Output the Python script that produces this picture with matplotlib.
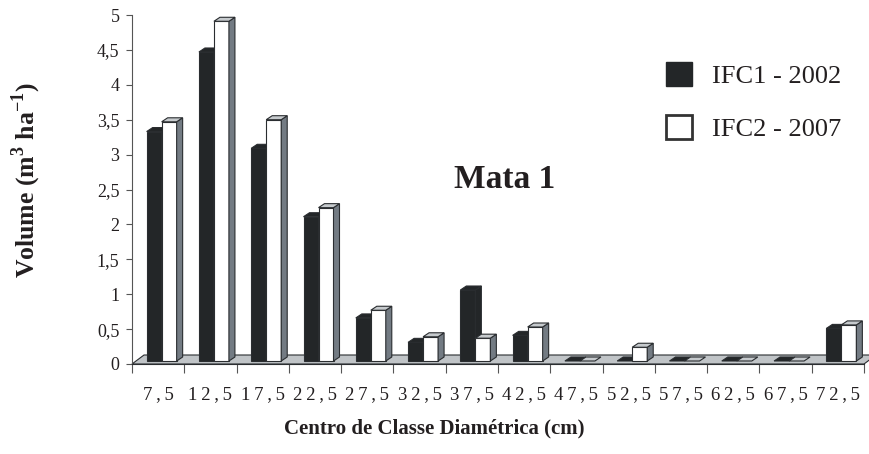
import numpy as np
import matplotlib
matplotlib.use("Agg")
import matplotlib.pyplot as plt
from matplotlib.patches import Polygon, Rectangle, Patch

# ---------------- data ----------------
classes = ["7,5", "12,5", "17,5", "22,5", "27,5", "32,5", "37,5",
           "42,5", "47,5", "52,5", "57,5", "62,5", "67,5", "72,5"]
ifc1_2002 = [3.33, 4.47, 3.09, 2.11, 0.66, 0.31, 1.06, 0.41, 0.0, 0.0, 0.0, 0.0, 0.0, 0.51]
ifc2_2007 = [3.47, 4.91, 3.50, 2.24, 0.77, 0.39, 0.37, 0.53, 0.0, 0.24, 0.0, 0.0, 0.0, 0.56]
series_labels = ["IFC1 - 2002", "IFC2 - 2007"]

# ---------------- style ----------------
plt.rcParams["font.family"] = ["Liberation Serif", "DejaVu Serif"]
plt.rcParams["mathtext.fontset"] = "custom"
plt.rcParams["mathtext.rm"] = "Liberation Serif"
plt.rcParams["mathtext.bf"] = "Liberation Serif:bold"

TXT = "#231f20"
DARK = "#232628"
SIDE = "#737b83"
TOP = "#c6cacd"
FLOOR = "#c0c4c7"
EDGE = "#2a2d30"

W, H = 869, 454
fig = plt.figure(figsize=(W / 100, H / 100), dpi=100)
ax = fig.add_axes([132 / W, 90 / H, 732 / W, 349 / H])
n = len(classes)
ax.set_xlim(-0.5, n - 0.5)
ax.set_ylim(0, 5)

# pixel -> data helpers for the fake 3D depth
px_x = 732 / n
px_y = 349 / 5
ddx, ddy = 6 / px_x, 4 / px_y          # bar depth
fdx, fdy = 12 / px_x, 9 / px_y         # floor depth
base = 3 / px_y
bw = 15 / px_x
off_black = -11.5 / px_x
off_white = off_black + bw

# floor
ax.add_patch(Polygon([(-0.5, 0), (n - 0.5, 0), (n - 0.5 + fdx, fdy), (-0.5 + fdx, fdy)],
                     closed=True, fc=FLOOR, ec=EDGE, lw=0.8, clip_on=False, zorder=1))


def bar3d(x0, v, face, top, side):
    h = max(v, base)
    if v > base:
        ax.add_patch(Rectangle((x0, base), bw, v - base, fc=face, ec=EDGE, lw=0.8,
                               clip_on=False, zorder=3))
        ax.add_patch(Polygon([(x0 + bw, base), (x0 + bw + ddx, base + ddy),
                              (x0 + bw + ddx, v + ddy), (x0 + bw, v)],
                             closed=True, fc=side, ec=EDGE, lw=0.8, clip_on=False, zorder=3))
    ax.add_patch(Polygon([(x0, h), (x0 + bw, h), (x0 + bw + ddx, h + ddy), (x0 + ddx, h + ddy)],
                         closed=True, fc=top, ec=EDGE, lw=0.8, clip_on=False, zorder=3))


for i in range(n):
    bar3d(i + off_black, ifc1_2002[i], DARK, DARK, DARK)
    bar3d(i + off_white, ifc2_2007[i], "white", TOP, SIDE)

# axes styling
for s in ["top", "right"]:
    ax.spines[s].set_visible(False)
ax.spines["left"].set_color("#555555")
ax.spines["bottom"].set_color(EDGE)
ax.spines["bottom"].set_linewidth(0.8)

yt = np.arange(0, 5.01, 0.5)
ax.set_yticks(yt)
ax.set_yticklabels([f"{v:g}".replace(".", ",") for v in yt])
ax.tick_params(axis="y", direction="out", length=4, width=0.8, color="#555555",
               labelsize=13, labelcolor=TXT, pad=5)

ax.set_xticks(range(n))
ax.set_xticklabels(["\u2009".join(c) for c in classes])
ax.tick_params(axis="x", which="major", length=0, labelsize=13.5, labelcolor=TXT, pad=16)
ax.set_xticks(np.arange(-0.5, n, 1.0), minor=True)
ax.tick_params(axis="x", which="minor", direction="out", length=6.5, width=0.8, color="#555555")

# texts
fig.text(505 / W, 1 - 180 / H, "Mata 1", ha="center", va="center",
         fontsize=24, fontweight="bold", color=TXT)
fig.text(434 / W, 1 - 428 / H, "Centro de Classe Diamétrica (cm)", ha="center", va="center",
         fontsize=15, fontweight="bold", color=TXT)
fig.text(26 / W, 1 - 180 / H, r"Volume (m$^{\mathbf{3}}$ ha$^{\mathbf{-1}}$)", ha="center",
         va="center", rotation=90, fontsize=18.5, fontweight="bold", color=TXT)

handles = [Patch(fc=DARK, ec=DARK, lw=1), Patch(fc="white", ec="#333333", lw=2)]
fig.legend(handles, series_labels, loc="upper left", bbox_to_anchor=(666 / W, 1 - 62 / H),
           bbox_transform=fig.transFigure, frameon=False, fontsize=19,
           handlelength=1.0, handleheight=1.03, handletextpad=0.76, labelspacing=1.02,
           borderpad=0, borderaxespad=0, labelcolor=TXT)

fig.savefig("out.png", dpi=100)
